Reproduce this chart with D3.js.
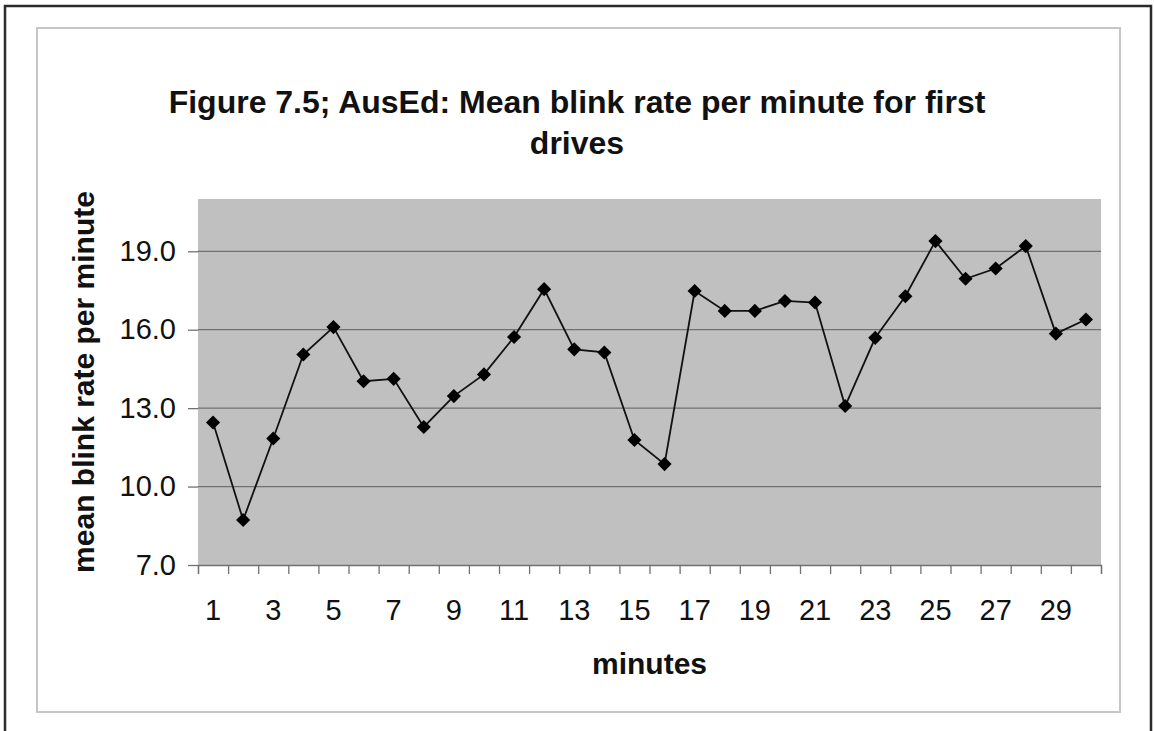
<!DOCTYPE html>
<html>
<head>
<meta charset="utf-8">
<script src="https://cdn.jsdelivr.net/npm/d3@7"></script>
<style>
  html, body { margin: 0; padding: 0; background: #fff; }
  svg { display: block; font-family: Arial, "Liberation Sans", sans-serif; }
</style>
</head>
<body>
<svg id="chart" width="1154" height="731"></svg>
<script>
// Minutes of the first drive
const minutes = [1, 2, 3, 4, 5, 6, 7, 8, 9, 10, 11, 12, 13, 14, 15,
                 16, 17, 18, 19, 20, 21, 22, 23, 24, 25, 26, 27, 28, 29, 30];
// Mean blinks per minute
const blinkRate = [12.45, 8.72, 11.84, 15.05, 16.1, 14.03, 14.12, 12.28, 13.46, 14.29,
                   15.72, 17.55, 15.25, 15.13, 11.78, 10.86, 17.48, 16.72, 16.72, 17.1,
                   17.04, 13.08, 15.69, 17.28, 19.39, 17.95, 18.34, 19.2, 15.85, 16.39];
const yTicks = [7, 10, 13, 16, 19];
const yDomain = [7, 21];
const xLabels = [1, 3, 5, 7, 9, 11, 13, 15, 17, 19, 21, 23, 25, 27, 29];
const titleLines = ["Figure 7.5; AusEd: Mean blink rate per minute for first", "drives"];

const svg = d3.select("#chart");

// outer page frame
svg.append("path")
  .attr("d", "M5,731 V6 H1151 V731")
  .attr("fill", "none").attr("stroke", "#2b2b2b").attr("stroke-width", 2.5);

// chart area frame
svg.append("rect")
  .attr("x", 37).attr("y", 28).attr("width", 1083).attr("height", 684)
  .attr("fill", "#fff").attr("stroke", "#c6c6c6").attr("stroke-width", 2);

const plot = { left: 198, right: 1101, top: 199, bottom: 565 };

const x = d3.scaleBand().domain(minutes).range([plot.left, plot.right]);
const xEdge = d3.scaleLinear().domain([0, minutes.length]).range([plot.left, plot.right]);
const y = d3.scaleLinear().domain(yDomain).range([plot.bottom, plot.top]);

// plot background
svg.append("rect")
  .attr("x", plot.left).attr("y", plot.top)
  .attr("width", plot.right - plot.left).attr("height", plot.bottom - plot.top)
  .attr("fill", "#c0c0c0");

// horizontal gridlines
svg.append("g").selectAll("line")
  .data(yTicks.filter(d => d !== yDomain[0]))
  .join("line")
  .attr("x1", plot.left).attr("x2", plot.right)
  .attr("y1", d => y(d)).attr("y2", d => y(d))
  .attr("stroke", "#707070").attr("stroke-width", 1.3);

// y axis
const yAxis = svg.append("g")
  .attr("transform", `translate(${plot.left},0)`)
  .call(d3.axisLeft(y).tickValues(yTicks).tickSize(10).tickPadding(12).tickFormat(d3.format(".1f")));
yAxis.select(".domain").remove();
yAxis.selectAll(".tick line").attr("stroke", "#707070").attr("stroke-width", 1.3);
yAxis.selectAll(".tick text")
  .attr("font-size", 29).attr("fill", "#111")
  .attr("font-family", "Arial, 'Liberation Sans', sans-serif");

// x axis: ticks between categories
const xTicks = svg.append("g")
  .attr("transform", `translate(0,${plot.bottom})`)
  .call(d3.axisBottom(xEdge).tickValues(d3.range(0, minutes.length + 1)).tickSize(9).tickFormat(""));
xTicks.select(".domain").attr("stroke", "#707070").attr("stroke-width", 1.3);
xTicks.selectAll(".tick line").attr("stroke", "#707070").attr("stroke-width", 1.3);

// x axis: category labels
const xAxis = svg.append("g")
  .attr("transform", `translate(0,${plot.bottom})`)
  .call(d3.axisBottom(x).tickValues(xLabels).tickSize(0).tickPadding(34));
xAxis.select(".domain").remove();
xAxis.selectAll(".tick text")
  .attr("font-size", 29).attr("fill", "#111")
  .attr("font-family", "Arial, 'Liberation Sans', sans-serif");

// series line
const line = d3.line()
  .x((d, i) => x(minutes[i]) + x.bandwidth() / 2)
  .y(d => y(d));
svg.append("path")
  .datum(blinkRate)
  .attr("d", line)
  .attr("fill", "none").attr("stroke", "#111").attr("stroke-width", 1.8);

// diamond markers
const diamond = d3.symbol().type(d3.symbolSquare).size(100);
svg.append("g").selectAll("path")
  .data(blinkRate)
  .join("path")
  .attr("d", diamond)
  .attr("transform", (d, i) => `translate(${x(minutes[i]) + x.bandwidth() / 2},${y(d)}) rotate(45)`)
  .attr("fill", "#000");

// title
const title = svg.append("text")
  .attr("text-anchor", "middle")
  .attr("font-size", 32).attr("font-weight", "bold").attr("fill", "#111");
title.selectAll("tspan")
  .data(titleLines)
  .join("tspan")
  .attr("x", 577)
  .attr("y", (d, i) => 113 + i * 41)
  .text(d => d);

// axis titles
svg.append("text")
  .attr("x", (plot.left + plot.right) / 2).attr("y", 674)
  .attr("text-anchor", "middle")
  .attr("font-size", 30).attr("font-weight", "bold").attr("fill", "#111")
  .text("minutes");

svg.append("text")
  .attr("transform", `translate(94,${(plot.top + plot.bottom) / 2}) rotate(-90)`)
  .attr("text-anchor", "middle")
  .attr("font-size", 30).attr("font-weight", "bold").attr("fill", "#111")
  .text("mean blink rate per minute");
</script>
</body>
</html>
